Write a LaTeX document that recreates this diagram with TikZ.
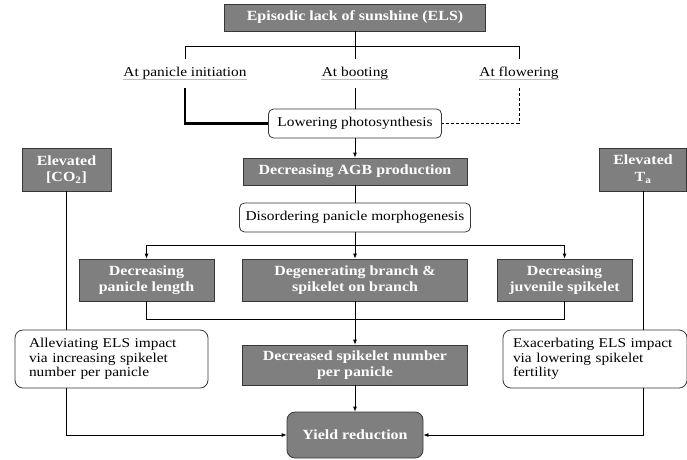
\documentclass[tikz,border=0pt]{standalone}
\usepackage{fontspec}
\setmainfont{Liberation Serif}[FakeStretch=1.14]
\usepackage{xcolor}
\usepackage{tikz}
\usetikzlibrary{arrows.meta, positioning, calc}

\definecolor{boxgray}{RGB}{127,127,127}
\definecolor{edgegray}{RGB}{55,55,55}

\begin{document}
\begin{tikzpicture}[
    x=1pt, y=-1pt,
    font=\fontsize{13.5}{14.5}\selectfont,
    line width=0.8pt,
    >={Latex[length=5pt,width=4pt]},
    dark/.style={rectangle, draw=edgegray, fill=boxgray, text=white,
                 font=\fontsize{14}{16.5}\selectfont\bfseries,
                 align=center, inner sep=1pt},
    soft/.style={rectangle, draw=edgegray, fill=white,
                 rounded corners=#1, inner sep=1pt},
    soft/.default=5pt,
    stage/.style={inner sep=0pt, minimum height=29pt},
    arrow/.style={->},
    ul/.style={draw=black!25, line width=0.9pt},
]
    \useasboundingbox (0,0) rectangle (687,459);

    % Trigger and timing
    \node[dark, minimum width=261pt, minimum height=27pt] (els) at (355,17.5)
          {Episodic lack of sunshine (ELS)};

    \node[stage] (pi) at (185,73.5) {At panicle initiation};
    \node[stage] (bo) at (355,73.5) {At booting};
    \node[stage] (fl) at (519,73.5) {At flowering};
    \foreach \s in {pi,bo,fl}
        \draw[ul] ([yshift=-3pt]\s.base west) -- ([yshift=-3pt]\s.base east);

    \draw (els.south) -- (bo.north);
    \draw (pi.north) -- ++(0,-12) -| (fl.north);

    % Physiology chain
    \node[soft, minimum width=173pt, minimum height=29pt] (photo) at (355,123.5)
          {Lowering photosynthesis};
    \node[dark, minimum width=224pt, minimum height=27pt] (agb) at (355,171.5)
          {Decreasing AGB production};
    \node[soft, minimum width=231pt, minimum height=29pt] (dis) at (355,217.5)
          {Disordering panicle morphogenesis};

    \draw[line width=2.4pt] (pi.south) |- (photo.west);
    \draw (bo.south) -- (photo.north);
    \draw[densely dashed] (fl.south) |- (photo.east);
    \draw[arrow] (photo) -- (agb);
    \draw (agb) -- (dis);

    % Panicle traits
    \node[dark, minimum width=135pt, minimum height=42pt] (len) at (146.5,280)
          {Decreasing\\panicle length};
    \node[dark, minimum width=225pt, minimum height=42pt] (deg) at (355,280)
          {Degenerating branch \&\\spikelet on branch};
    \node[dark, minimum width=135pt, minimum height=42pt] (juv) at (564.5,280)
          {Decreasing\\juvenile spikelet};

    \draw[arrow] (dis.south) -- ++(0,13) -| (len.north);
    \draw[arrow] (dis.south) -- ++(0,13) -| (juv.north);
    \draw[arrow] (dis) -- (deg);
    \draw (len.south) -- ++(0,18) -| (juv.south);

    \node[dark, minimum width=225pt, minimum height=40pt] (dec) at (355,365)
          {Decreased spikelet number\\per panicle};
    \node[dark, rounded corners=8pt, minimum width=136pt, minimum height=46pt] (yield)
          at (355,435) {Yield reduction};

    \draw[arrow] (deg) -- (dec);
    \draw[arrow] (dec) -- (yield);

    % Climate factors
    \node[dark, minimum width=89pt, minimum height=43pt] (co2) at (66.5,169.5)
          {Elevated\\{[CO\textsubscript{2}]}};
    \node[dark, minimum width=87pt, minimum height=43pt] (ta) at (643,169.5)
          {Elevated\\T\textsubscript{a}};

    \node[soft=8pt, inner xsep=14pt, text width=165pt, align=left,
          minimum height=58pt] (alle) at (111.5,359)
          {Alleviating ELS impact\\via increasing spikelet\\number per panicle};
    \node[soft=8pt, inner xsep=10pt, text width=164pt, align=left,
          minimum height=58pt] (exa) at (595,359)
          {Exacerbating ELS impact\\via lowering spikelet\\fertility};

    \draw (co2.south) -- (co2.south |- alle.north);
    \draw[arrow] (co2.south |- alle.south) |- (yield.west);
    \draw (ta.south) -- (ta.south |- exa.north);
    \draw[arrow] (ta.south |- exa.south) |- (yield.east);

\end{tikzpicture}
\end{document}
